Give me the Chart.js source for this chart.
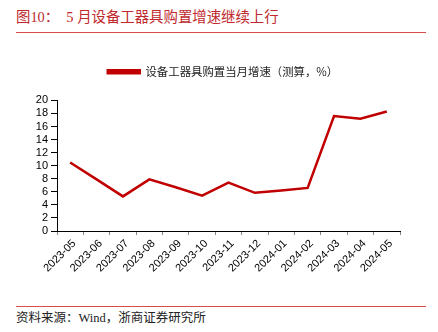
<!DOCTYPE html>
<html><head><meta charset="utf-8">
<script src="https://cdn.jsdelivr.net/npm/chart.js@4.4.1/dist/chart.umd.min.js"></script>
<style>
html,body{margin:0;padding:0;background:#fff;}
body{width:438px;height:332px;position:relative;overflow:hidden;}
#title{position:absolute;left:16px;top:8px;font-family:"Liberation Serif","Noto Sans CJK SC",serif;font-size:14.4px;color:#c0282d;white-space:pre;line-height:18px;}
#tl{position:absolute;left:16px;top:31.5px;width:410px;height:1.5px;background:#d94b4b;}
#bl{position:absolute;left:16px;top:305.5px;width:410px;height:1.5px;background:#d94b4b;}
#foot{position:absolute;left:16px;top:310px;font-family:"Liberation Serif","Noto Sans CJK SC",serif;font-size:12.5px;color:#222;white-space:pre;line-height:16px;}
#wrap{position:absolute;left:0;top:40px;width:438px;height:260px;}
</style></head>
<body>
<div id="title">图10：  5 月设备工器具购置增速继续上行</div>
<div id="tl"></div>
<div id="wrap"><canvas id="c" width="438" height="260"></canvas></div>
<div id="bl"></div>
<div id="foot">资料来源：Wind，浙商证券研究所</div>
<script>
const categories = ["2023-05","2023-06","2023-07","2023-08","2023-09","2023-10","2023-11","2023-12","2024-01","2024-02","2024-03","2024-04","2024-05"];
const seriesName = "设备工器具购置当月增速（测算，%）";
const seriesValues = [10.5, 7.9, 5.3, 7.9, 6.7, 5.4, 7.4, 5.85, 6.2, 6.6, 17.6, 17.2, 18.3];
const yMin = 0, yMax = 20, yStep = 2;

const legendGap = {
  id: 'legendGap',
  beforeInit(chart) {
    const orig = chart.legend.fit;
    chart.legend.fit = function() {
      orig.call(this);
      this.height += 13;
    };
  }
};

new Chart(document.getElementById('c'), {
  type: 'line',
  data: {
    labels: categories,
    datasets: [{
      label: seriesName,
      data: seriesValues,
      borderColor: '#c00000',
      backgroundColor: '#c00000',
      borderWidth: 2.5,
      pointRadius: 0,
      tension: 0,
      fill: false
    }]
  },
  plugins: [legendGap],
  options: {
    responsive: false,
    animation: false,
    devicePixelRatio: 1,
    layout: {padding: {top: 16, right: 0, left: 8, bottom: 0}},
    plugins: {
      legend: {
        display: true,
        position: 'top',
        labels: {
          boxWidth: 32, boxHeight: 3, padding: 10,
          color: '#222',
          font: {family: '"Noto Sans CJK SC", sans-serif', size: 11.4}
        }
      },
      tooltip: {enabled: false}
    },
    scales: {
      x: {
        offset: true,
        grid: {display: true, drawOnChartArea: false, drawTicks: true, tickLength: 4, offset: true, color: '#888'},
        border: {display: true, color: '#000', width: 1},
        ticks: {minRotation: 45, maxRotation: 45, autoSkip: false, color: '#000', padding: 2, labelOffset: 4,
          font: {family: '"Liberation Sans", Arial, sans-serif', size: 11}},
        afterFit: (s) => { s.height = 69; }
      },
      y: {
        min: yMin, max: yMax,
        grid: {display: true, drawOnChartArea: false, drawTicks: true, tickLength: 6, color: '#000'},
        border: {display: true, color: '#000', width: 1},
        ticks: {stepSize: yStep, autoSkip: false, color: '#000', padding: 3,
          font: {family: '"Liberation Sans", Arial, sans-serif', size: 11}},
        afterFit: (s) => { s.width = 49; }
      },
      yR: {
        position: 'right',
        display: true,
        grid: {display: false},
        border: {display: false},
        ticks: {display: false},
        afterFit: (s) => { s.width = 38; }
      }
    }
  }
});
</script>
</body></html>
